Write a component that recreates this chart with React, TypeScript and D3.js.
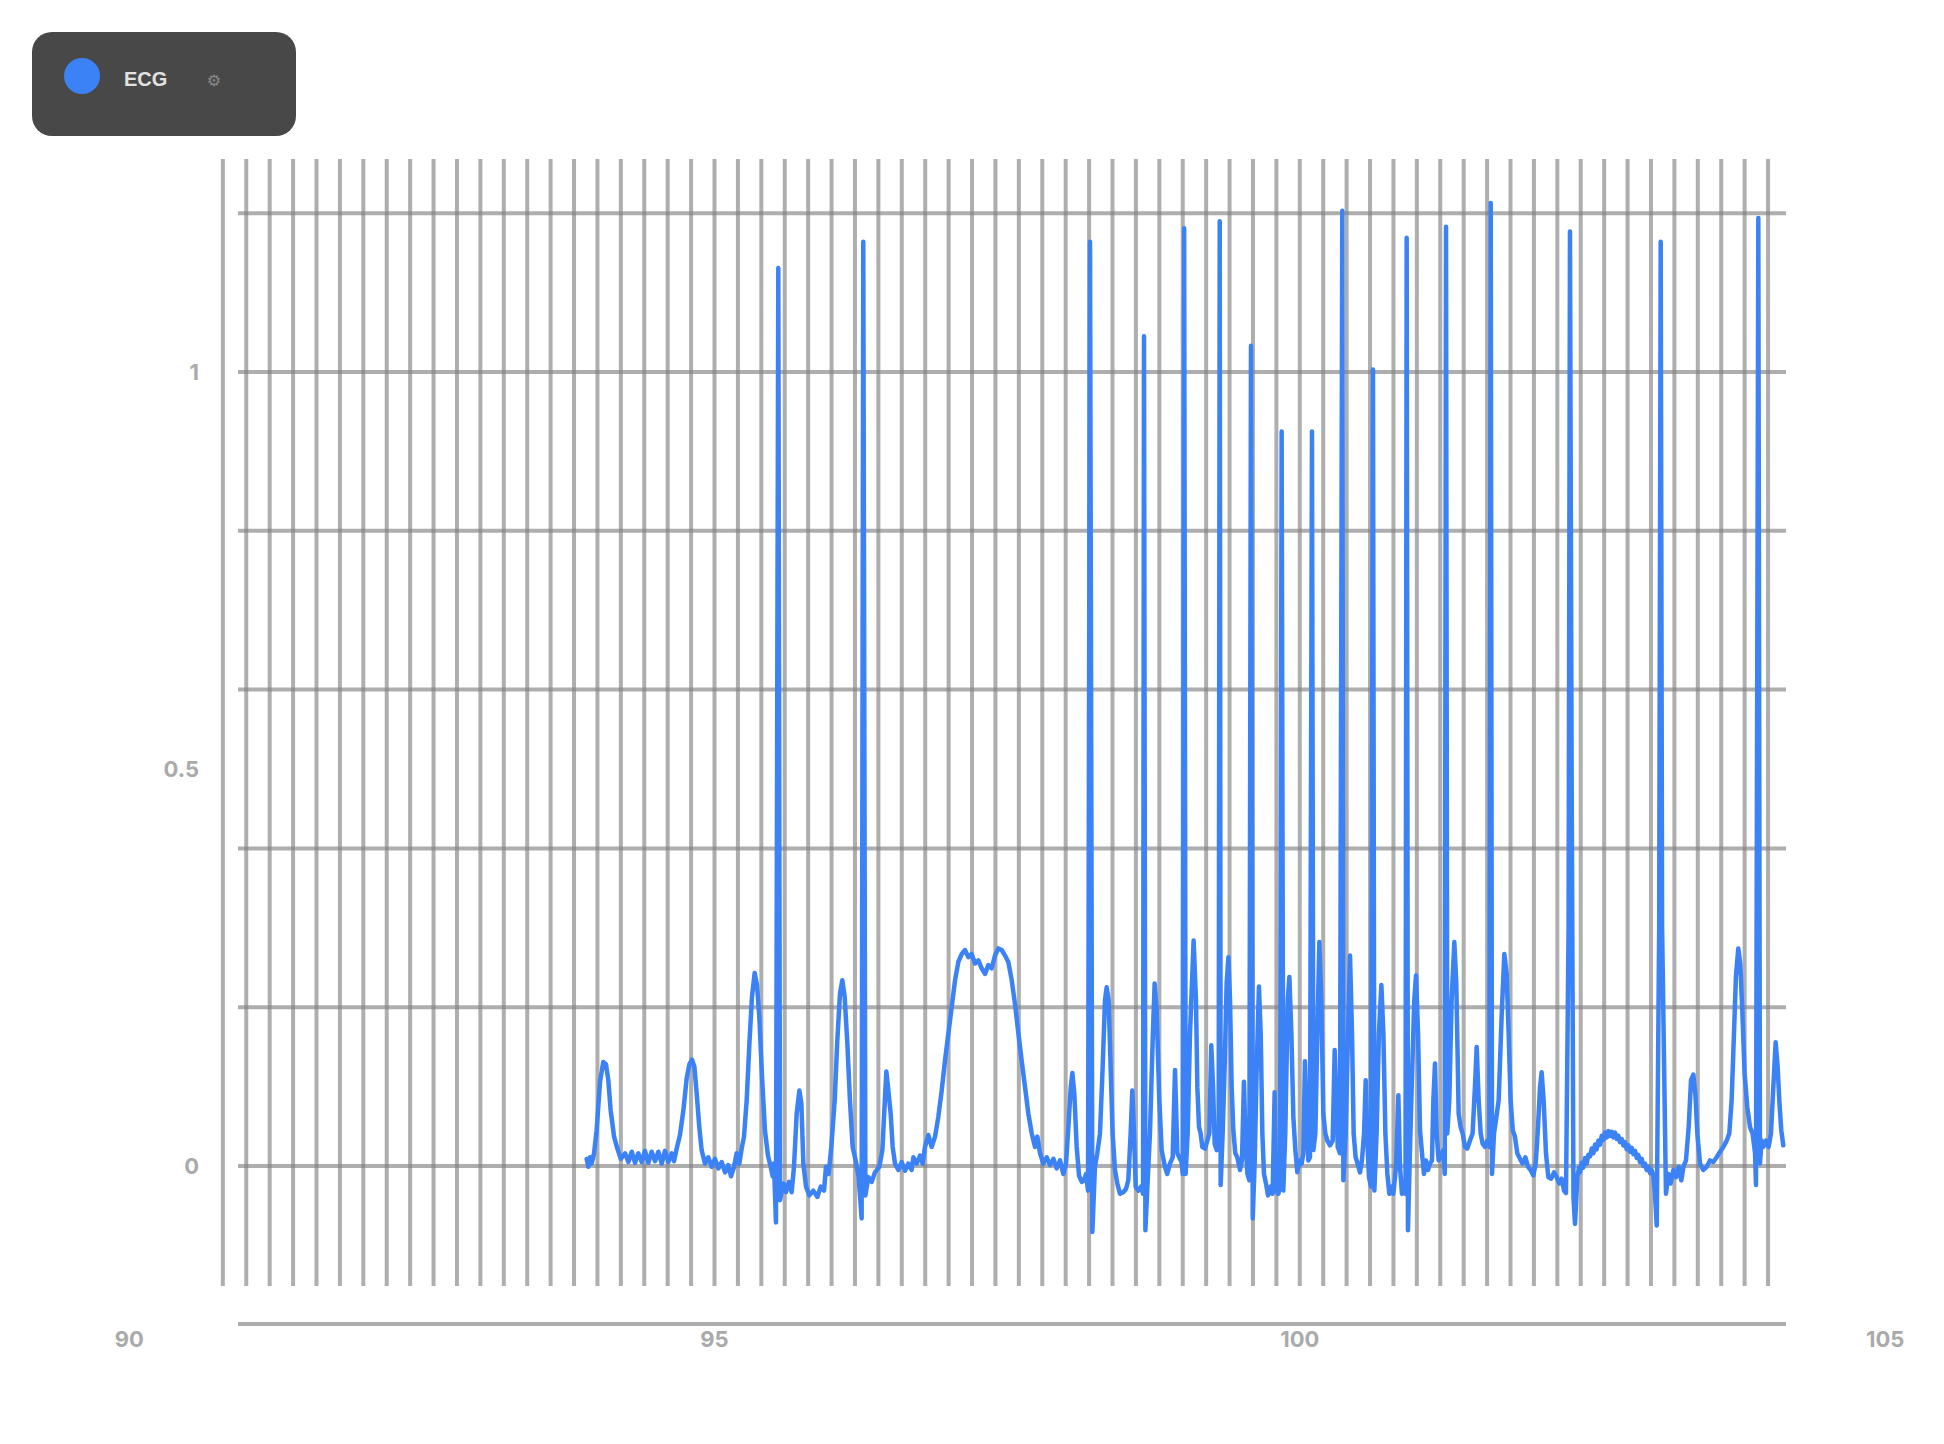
import React from 'react';
import * as d3 from 'd3';

// ECG trace (time in s, amplitude in mV)
const ecgTime = [
  93.908, 93.922, 93.937, 93.951, 93.971, 93.993, 94.022, 94.05, 94.073, 94.093, 94.113, 94.142, 94.17, 94.199,
  94.236, 94.264, 94.293, 94.321, 94.349, 94.378, 94.406, 94.435, 94.463, 94.492, 94.52, 94.549, 94.577, 94.606,
  94.634, 94.654, 94.677, 94.705, 94.734, 94.762, 94.785, 94.808, 94.828, 94.848, 94.87, 94.89, 94.919, 94.947,
  94.976, 95.004, 95.033, 95.061, 95.09, 95.118, 95.141, 95.167, 95.189, 95.212, 95.232, 95.252, 95.275, 95.298,
  95.32, 95.343, 95.363, 95.383, 95.406, 95.431, 95.457, 95.48, 95.497, 95.508, 95.525, 95.545, 95.56, 95.588,
  95.611, 95.636, 95.659, 95.679, 95.702, 95.725, 95.742, 95.759, 95.782, 95.81, 95.844, 95.879, 95.907, 95.936,
  95.952, 95.975, 95.998, 96.027, 96.049, 96.072, 96.092, 96.112, 96.135, 96.157, 96.18, 96.209, 96.231, 96.257,
  96.271, 96.289, 96.314, 96.343, 96.371, 96.408, 96.434, 96.454, 96.468, 96.485, 96.505, 96.522, 96.542, 96.571,
  96.599, 96.627, 96.656, 96.684, 96.699, 96.727, 96.756, 96.778, 96.798, 96.827, 96.855, 96.884, 96.912, 96.941,
  96.969, 96.998, 97.026, 97.055, 97.083, 97.112, 97.14, 97.168, 97.197, 97.225, 97.254, 97.282, 97.311, 97.339,
  97.368, 97.396, 97.425, 97.453, 97.482, 97.51, 97.539, 97.567, 97.596, 97.624, 97.653, 97.681, 97.71, 97.738,
  97.758, 97.781, 97.809, 97.838, 97.866, 97.895, 97.923, 97.952, 97.98, 98.003, 98.023, 98.043, 98.057, 98.074,
  98.094, 98.114, 98.137, 98.157, 98.174, 98.191, 98.208, 98.228, 98.25, 98.27, 98.293, 98.316, 98.336, 98.35,
  98.367, 98.384, 98.401, 98.421, 98.441, 98.464, 98.492, 98.515, 98.535, 98.555, 98.569, 98.583, 98.598, 98.621,
  98.643, 98.661, 98.669, 98.681, 98.698, 98.72, 98.743, 98.76, 98.777, 98.8, 98.82, 98.848, 98.868, 98.891,
  98.914, 98.934, 98.954, 98.976, 98.99, 99.0, 99.012, 99.025, 99.042, 99.062, 99.093, 99.113, 99.125, 99.139,
  99.153, 99.167, 99.19, 99.21, 99.227, 99.244, 99.259, 99.273, 99.29, 99.307, 99.316, 99.324, 99.341, 99.358,
  99.375, 99.39, 99.404, 99.418, 99.432, 99.449, 99.466, 99.489, 99.506, 99.523, 99.535, 99.552, 99.569, 99.583,
  99.598, 99.615, 99.632, 99.651, 99.666, 99.68, 99.694, 99.711, 99.729, 99.751, 99.768, 99.785, 99.797, 99.817,
  99.831, 99.845, 99.859, 99.876, 99.897, 99.911, 99.928, 99.945, 99.962, 99.979, 99.996, 100.016, 100.03, 100.044,
  100.059, 100.073, 100.087, 100.104, 100.116, 100.133, 100.15, 100.167, 100.184, 100.201, 100.218, 100.235, 100.258, 100.281,
  100.298, 100.309, 100.324, 100.343, 100.363, 100.372, 100.392, 100.412, 100.429, 100.446, 100.46, 100.477, 100.494, 100.514,
  100.531, 100.549, 100.563, 100.574, 100.591, 100.608, 100.625, 100.637, 100.656, 100.676, 100.697, 100.714, 100.731, 100.748,
  100.765, 100.782, 100.799, 100.822, 100.842, 100.856, 100.873, 100.89, 100.903, 100.913, 100.924, 100.941, 100.961, 100.978,
  100.993, 101.01, 101.027, 101.044, 101.061, 101.078, 101.095, 101.112, 101.129, 101.141, 101.155, 101.169, 101.186, 101.203,
  101.226, 101.238, 101.249, 101.26, 101.277, 101.297, 101.32, 101.337, 101.357, 101.374, 101.391, 101.411, 101.431, 101.454,
  101.476, 101.496, 101.511, 101.528, 101.545, 101.562, 101.582, 101.602, 101.619, 101.631, 101.642, 101.659, 101.676, 101.699,
  101.724, 101.747, 101.767, 101.784, 101.801, 101.819, 101.838, 101.858, 101.881, 101.904, 101.927, 101.95, 101.972, 101.995,
  102.015, 102.032, 102.052, 102.066, 102.083, 102.103, 102.123, 102.146, 102.172, 102.194, 102.217, 102.237, 102.257, 102.274,
  102.296, 102.308, 102.322, 102.338, 102.351,
  102.371, 102.385, 102.394, 102.408, 102.422, 102.436, 102.451, 102.465, 102.479, 102.494, 102.508, 102.522, 102.536, 102.551, 102.565, 102.579, 102.593, 102.608, 102.622, 102.636,
  102.65, 102.665, 102.679, 102.693, 102.707, 102.721, 102.735, 102.75, 102.764, 102.778, 102.792, 102.807, 102.821, 102.835, 102.849, 102.864, 102.878, 102.892, 102.906, 102.921,
  102.935, 102.949, 102.963, 102.978, 102.992, 103.006,
  103.02, 103.034, 103.049, 103.07, 103.083, 103.095, 103.128, 103.148, 103.168, 103.191, 103.214, 103.237, 103.259, 103.277,
  103.299, 103.322, 103.342, 103.362, 103.379, 103.396, 103.419, 103.447, 103.476, 103.504, 103.533, 103.561, 103.59, 103.618,
  103.647, 103.669, 103.689, 103.709, 103.726, 103.746, 103.763, 103.78, 103.8, 103.823, 103.846, 103.868, 103.889, 103.897,
  103.917, 103.931, 103.945, 103.96, 103.983, 104.005, 104.025, 104.045, 104.065, 104.082, 104.096, 104.113, 104.13,
];

const ecgValue = [
  0.009, -0.001, 0.011, 0.003, 0.016, 0.045, 0.106, 0.131, 0.128, 0.108, 0.07, 0.037, 0.022, 0.009,
  0.016, 0.005, 0.018, 0.004, 0.016, 0.005, 0.019, 0.004, 0.018, 0.006, 0.018, 0.003, 0.019, 0.005,
  0.016, 0.006, 0.022, 0.039, 0.07, 0.11, 0.128, 0.134, 0.125, 0.091, 0.049, 0.02, 0.003, 0.011,
  -0.001, 0.009, -0.003, 0.005, -0.008, 0.001, -0.013, -0.001, 0.016, 0.003, 0.022, 0.037, 0.083, 0.154,
  0.213, 0.243, 0.228, 0.188, 0.112, 0.045, 0.013, -0.001, -0.013, 0.003, -0.071, 1.131, -0.043, -0.022,
  -0.033, -0.02, -0.033, -0.001, 0.066, 0.095, 0.079, 0.003, -0.026, -0.037, -0.031, -0.039, -0.026, -0.031,
  -0.001, -0.01, 0.024, 0.083, 0.158, 0.217, 0.234, 0.213, 0.154, 0.083, 0.024, 0.005, -0.014, -0.066,
  1.164, -0.037, -0.014, -0.02, -0.008, -0.001, 0.02, 0.079, 0.119, 0.095, 0.066, 0.024, 0.003, -0.005,
  0.005, -0.006, 0.003, -0.005, 0.011, 0.003, 0.013, 0.003, 0.024, 0.039, 0.024, 0.037, 0.062, 0.095,
  0.133, 0.167, 0.2, 0.234, 0.257, 0.267, 0.272, 0.263, 0.267, 0.255, 0.259, 0.249, 0.242, 0.253,
  0.249, 0.265, 0.274, 0.272, 0.265, 0.257, 0.234, 0.204, 0.167, 0.133, 0.099, 0.066, 0.041, 0.024,
  0.037, 0.016, 0.003, 0.011, 0.001, 0.009, -0.003, 0.007, -0.01, 0.003, 0.049, 0.099, 0.117, 0.091,
  0.024, -0.012, -0.02, -0.018, -0.01, -0.031, 1.164, -0.083, -0.001, 0.016, 0.041, 0.125, 0.209, 0.225,
  0.209, 0.125, 0.041, -0.005, -0.022, -0.035, -0.033, -0.029, -0.018, 0.041, 0.095, 0.045, -0.026, -0.031,
  -0.026, -0.035, 1.045, -0.081, -0.026, 0.041, 0.158, 0.23, 0.196, 0.083, 0.02, -0.001, -0.01, 0.003,
  0.011, 0.121, 0.016, 0.009, 0.005, -0.01, 1.181, -0.01, 0.041, 0.167, 0.284, 0.209, 0.099, 0.049,
  0.041, 0.024, 0.022, 0.032, 0.041, 0.152, 0.099, 0.028, 0.02, 0.032, 1.19, -0.024, 0.041, 0.125,
  0.23, 0.263, 0.209, 0.099, 0.045, 0.016, 0.011, -0.005, 0.007, 0.106, 0.041, -0.01, -0.018, 1.033,
  -0.066, 0.007, 0.125, 0.226, 0.167, 0.041, -0.01, -0.022, -0.037, -0.026, -0.035, 0.093, -0.031, -0.035,
  -0.026, 0.925, -0.031, 0.041, 0.209, 0.238, 0.167, 0.062, 0.02, -0.008, 0.007, 0.003, 0.016, 0.132,
  0.062, 0.007, 0.011, 0.925, 0.02, 0.041, 0.167, 0.282, 0.209, 0.066, 0.041, 0.032, 0.026, 0.032,
  0.146, 0.099, 0.024, 0.016, 1.203, -0.018, 0.041, 0.167, 0.265, 0.167, 0.041, 0.011, 0.003, -0.008,
  0.007, 0.041, 0.108, 0.041, -0.014, -0.026, 1.003, -0.031, 0.041, 0.167, 0.228, 0.167, 0.041, -0.01,
  -0.035, -0.026, -0.035, -0.001, 0.089, -0.001, -0.035, -0.031, -0.035, 1.169, -0.081, 0.02, 0.125, 0.209,
  0.24, 0.167, 0.045, 0.016, -0.01, 0.007, -0.005, 0.003, 0.007, 0.083, 0.129, 0.041, 0.007, 0.011,
  0.02, -0.01, 1.183, 0.041, 0.083, 0.209, 0.282, 0.23, 0.066, 0.049, 0.041, 0.024, 0.022, 0.032,
  0.041, 0.099, 0.15, 0.083, 0.041, 0.028, 0.024, 0.032, 0.024, 1.213, -0.01, 0.041, 0.058, 0.083,
  0.188, 0.267, 0.242, 0.167, 0.083, 0.045, 0.037, 0.016, 0.009, 0.003, 0.011, -0.001, -0.005, -0.012,
  0.003, 0.041, 0.099, 0.118, 0.083, 0.016, -0.014, -0.016, -0.008, -0.014, -0.022, -0.016, -0.031, -0.034,
  0.3, 1.177, 0.5, -0.04, -0.073,
  -0.014, -0.002, -0.008, 0.004, -0.002, 0.01, 0.003, 0.014, 0.012, 0.022, 0.016, 0.027, 0.021, 0.032, 0.027, 0.038, 0.033, 0.042, 0.036, 0.044,
  0.038, 0.043, 0.036, 0.042, 0.034, 0.038, 0.03, 0.034, 0.026, 0.03, 0.021, 0.026, 0.018, 0.023, 0.015, 0.019, 0.01, 0.014, 0.005, 0.009,
  0.0, 0.003, -0.005, -0.001, -0.009, -0.005,
  -0.012, -0.035, -0.075, 0.3, 1.164, 0.3, -0.035, -0.01, -0.022, -0.005, -0.014, -0.001, -0.018, -0.001,
  0.007, 0.049, 0.108, 0.115, 0.091, 0.041, 0.003, -0.005, -0.001, 0.007, 0.005, 0.011, 0.018, 0.024,
  0.032, 0.041, 0.083, 0.167, 0.24, 0.274, 0.255, 0.196, 0.116, 0.074, 0.049, 0.041, 0.016, -0.024,
  1.194, 0.003, 0.032, 0.024, 0.032, 0.024, 0.041, 0.099, 0.156, 0.125, 0.083, 0.045, 0.026,
];

const seriesName = 'ECG';
const xTickValues = [90, 95, 100, 105];
const yTickValues = [0, 0.5, 1];
const yGridValues = [0, 0.2, 0.4, 0.6, 0.8, 1.0, 1.2];
const xGridFirst = 90.8;
const xGridCount = 67;
const xGridStep = 0.2;

export default function App() {
  const W = 1944;
  const H = 1444;
  const x = d3.scaleLinear().domain([90, 105]).range([129.2, 1885.1]);
  const y = d3.scaleLinear().domain([0, 1]).range([1166, 372]);
  const xGrid = d3.range(xGridCount).map((i) => xGridFirst + i * xGridStep);
  const n = Math.min(ecgTime.length, ecgValue.length);
  const data: [number, number][] = ecgTime.slice(0, n).map((t, i) => [t, ecgValue[i]]);
  const line = d3
    .line<[number, number]>()
    .x((d) => x(d[0]))
    .y((d) => y(d[1]));

  const gridColor = '#808080';
  const gridOpacity = 0.64;
  const labelFont = 'Inter, "Liberation Sans", Arial, sans-serif';
  const legendFont = '"Liberation Sans", Arial, Helvetica, sans-serif';
  const blue = '#3b82f6';

  return (
    <svg
      width={W}
      height={H}
      style={{ position: 'absolute', left: 0, top: 0, display: 'block', background: '#fff' }}
    >
      {/* vertical grid */}
      <g stroke={gridColor} strokeOpacity={gridOpacity} strokeWidth={4}>
        {xGrid.map((v, i) => (
          <line key={'vx' + i} x1={x(v)} x2={x(v)} y1={159} y2={1286} />
        ))}
      </g>
      {/* horizontal grid */}
      <g stroke={gridColor} strokeOpacity={gridOpacity} strokeWidth={4}>
        {yGridValues.map((v, i) => (
          <line key={'hy' + i} x1={238} x2={1786} y1={y(v)} y2={y(v)} />
        ))}
      </g>
      {/* bottom axis line */}
      <line x1={238} x2={1786} y1={1324} y2={1324} stroke="#adadad" strokeWidth={4} />

      {/* y tick labels */}
      <g fontFamily={labelFont} fontWeight={700} fontSize={22} fill="#aaaaaa">
        {yTickValues.map((v) => (
          <text key={'yl' + v} x={199} y={y(v)} textAnchor="end" dominantBaseline="central">
            {String(v)}
          </text>
        ))}
      </g>
      {/* x tick labels */}
      <g fontFamily={labelFont} fontWeight={700} fontSize={22} fill="#aaaaaa">
        {xTickValues.map((v) => (
          <text key={'xl' + v} x={x(v)} y={1339} textAnchor="middle" dominantBaseline="central">
            {String(v)}
          </text>
        ))}
      </g>

      {/* ECG trace */}
      <path
        d={line(data) || ''}
        fill="none"
        stroke={blue}
        strokeWidth={4.5}
        strokeLinejoin="round"
        strokeLinecap="round"
      />

      {/* legend */}
      <g>
        <rect x={32} y={32} width={264} height={104} rx={20} ry={20} fill="#484848" />
        <circle cx={82} cy={76} r={18} fill={blue} />
        <text x={124} y={86} fontFamily={legendFont} fontWeight={700} fontSize={20} fill="#e2e2e2">
          {seriesName}
        </text>
        <text
          x={214}
          y={80}
          fontFamily='"DejaVu Sans", sans-serif'
          fontSize={16}
          fill="#8a8a8a"
          textAnchor="middle"
          dominantBaseline="central"
        >
          ⚙
        </text>
      </g>
    </svg>
  );
}
